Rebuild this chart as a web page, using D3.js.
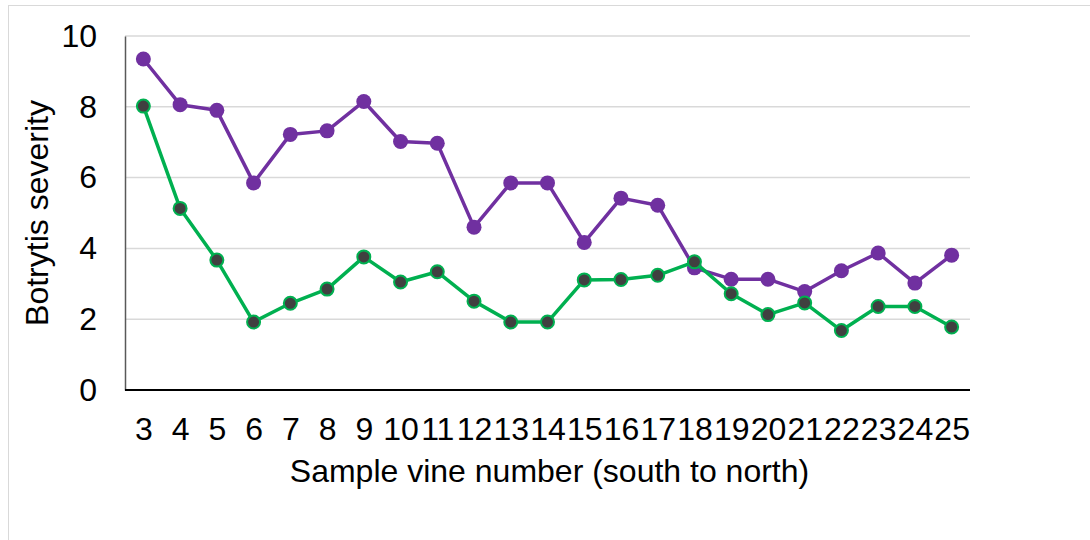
<!DOCTYPE html>
<html>
<head>
<meta charset="utf-8">
<script src="https://cdn.jsdelivr.net/npm/d3@7"></script>
<style>
  body { margin: 0; background: #fff; }
  text { font-family: "Liberation Sans", Arial, sans-serif; fill: #000; }
</style>
</head>
<body>
<div id="chart"></div>
<script>
// sample vines, south to north
const vines = ["3","4","5","6","7","8","9","10","11","12","13","14","15","16","17","18","19","20","21","22","23","24","25"];
const purpleSeries = [9.35,8.06,7.9,5.85,7.22,7.32,8.15,7.02,6.97,4.6,5.85,5.85,4.17,5.42,5.22,3.45,3.13,3.13,2.78,3.37,3.87,3.02,3.81];
const greenSeries = [8.02,5.13,3.67,1.92,2.45,2.85,3.76,3.05,3.34,2.51,1.92,1.92,3.11,3.12,3.24,3.62,2.72,2.13,2.46,1.68,2.36,2.36,1.78];
const yTicks = [0, 2, 4, 6, 8, 10];

const W = 1090, H = 540;
const margin = { top: 36, right: 120, bottom: 150, left: 125 },
      width = W - margin.left - margin.right,
      height = H - margin.top - margin.bottom;
const fontSize = "32px";

const svg = d3.select("#chart")
    .append("svg")
    .attr("width", W)
    .attr("height", H);

// chart area border
svg.append("rect")
    .attr("x", 8.5).attr("y", 5.5)
    .attr("width", W).attr("height", H)
    .attr("fill", "none")
    .attr("stroke", "#d9d9d9")
    .attr("stroke-width", 1);

const g = svg.append("g")
    .attr("transform", `translate(${margin.left},${margin.top})`);

const x = d3.scalePoint()
    .domain(vines)
    .range([0, width])
    .padding(0.5);

const y = d3.scaleLinear()
    .domain([0, 10])
    .range([height, 0]);

// gridlines
g.append("g")
    .selectAll("line")
    .data(yTicks.filter(d => d > 0))
    .enter().append("line")
    .attr("x1", 0).attr("x2", width)
    .attr("y1", d => y(d)).attr("y2", d => y(d))
    .attr("stroke", "#d9d9d9")
    .attr("stroke-width", 1.5);

// y axis
const yAxis = g.append("g")
    .call(d3.axisLeft(y).tickValues(yTicks).tickSize(0).tickPadding(28).tickSizeOuter(0));
yAxis.select(".domain").attr("stroke", "#595959").attr("stroke-width", 1.5);
yAxis.selectAll("text").style("font-size", fontSize).attr("fill", "#000");

// x axis
const xAxis = g.append("g")
    .attr("transform", `translate(0,${height})`)
    .call(d3.axisBottom(x).tickSize(0).tickPadding(27).tickSizeOuter(0));
xAxis.select(".domain").attr("stroke", "#000").attr("stroke-width", 2)
    .attr("d", `M0,0H${width}`);
xAxis.selectAll("text").style("font-size", fontSize).attr("fill", "#000");

// axis titles
svg.append("text")
    .attr("x", margin.left + width / 2 + 2)
    .attr("y", 482)
    .attr("text-anchor", "middle")
    .style("font-size", fontSize)
    .text("Sample vine number (south to north)");

svg.append("text")
    .attr("transform", `translate(48,${margin.top + height / 2}) rotate(-90)`)
    .attr("text-anchor", "middle")
    .style("font-size", fontSize)
    .text("Botrytis severity");

const line = d3.line()
    .x((d, i) => x(vines[i]))
    .y(d => y(d));

// purple series
g.append("path")
    .datum(purpleSeries)
    .attr("fill", "none")
    .attr("stroke", "#7030a0")
    .attr("stroke-width", 3.5)
    .attr("stroke-linejoin", "round")
    .attr("d", line);

g.append("g")
    .selectAll("circle")
    .data(purpleSeries)
    .enter().append("circle")
    .attr("cx", (d, i) => x(vines[i]))
    .attr("cy", d => y(d))
    .attr("r", 7.5)
    .attr("fill", "#7030a0");

// green series
g.append("path")
    .datum(greenSeries)
    .attr("fill", "none")
    .attr("stroke", "#00b050")
    .attr("stroke-width", 3.5)
    .attr("stroke-linejoin", "round")
    .attr("d", line);

g.append("g")
    .selectAll("circle")
    .data(greenSeries)
    .enter().append("circle")
    .attr("cx", (d, i) => x(vines[i]))
    .attr("cy", d => y(d))
    .attr("r", 6.5)
    .attr("fill", "#404040")
    .attr("stroke", "#00b050")
    .attr("stroke-width", 2);
</script>
</body>
</html>
